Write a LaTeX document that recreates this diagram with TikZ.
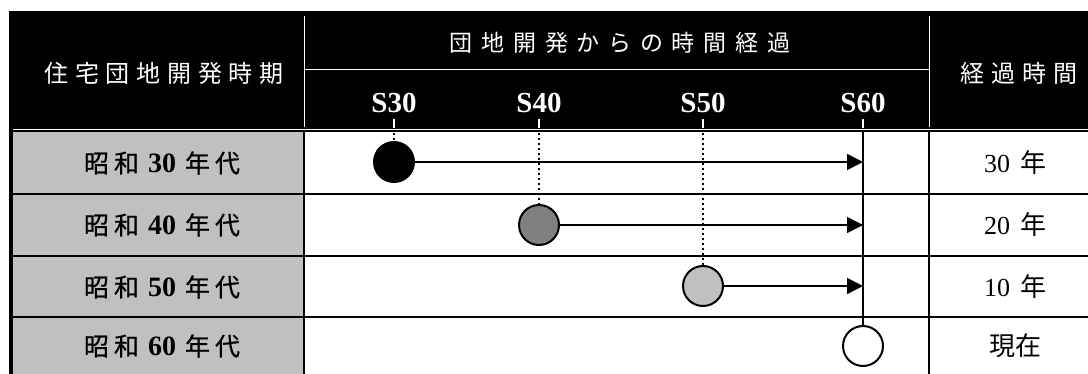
\documentclass[tikz,border=0pt]{standalone}
\usepackage{fontspec}
\setmainfont{Liberation Serif}
\newfontfamily\jphead[LetterSpace=28]{Noto Sans CJK JP}
\newfontfamily\jpwide[LetterSpace=38]{Noto Sans CJK JP}
\newfontfamily\jprow[LetterSpace=20,FakeBold=0.8]{Noto Sans CJK JP}
\newfontfamily\jpcell{Noto Sans CJK JP}
\usetikzlibrary{arrows.meta}
\definecolor{cellgrey}{HTML}{C0C0C0}
\definecolor{midgrey}{HTML}{808080}
\newcommand{\rowlab}[1]{{\jprow 昭和}\hspace{9pt}{\bfseries\fontsize{28}{30}\selectfont #1}\hspace{9pt}{\jprow 年代}}
\newcommand{\yrs}[1]{#1\hspace{10pt}{\jpcell 年}}
\begin{document}
\begin{tikzpicture}[x=1pt,y=-1pt,
  headtxt/.style={text=white,inner sep=0pt,font=\fontsize{24}{28}\selectfont\jphead},
  yeartxt/.style={text=white,inner sep=0pt,font=\fontsize{29}{32}\selectfont\bfseries},
  rowtxt/.style={text=black,inner sep=0pt,font=\fontsize{25}{28}\selectfont},
  celltxt/.style={text=black,inner sep=0pt,font=\fontsize{26}{28}\selectfont},
  gridline/.style={line width=2pt,black},
  hdrline/.style={line width=1pt,white},
  tick/.style={line width=2pt,white},
  dotline/.style={line width=2.5pt,black,dash pattern=on 2.5pt off 2.5pt},
  dot/.style={circle,draw=black,line width=2pt,minimum size=40pt,inner sep=0pt},
  arr/.style={line width=1.6pt,-{Triangle[length=16pt,width=16pt]}}
]
\useasboundingbox (0,0) rectangle (1088,374);
% header
\fill[black] (9,11) rectangle (1088,129);
\draw[hdrline] (304,16) -- (304,127);
\draw[hdrline] (929,16) -- (929,127);
\draw[hdrline] (304,70) -- (929,70);
% body
\fill[cellgrey] (13,131) rectangle (304,374);
\fill[black] (9,129) rectangle (13,374);
\draw[gridline] (13,131) -- (1088,131);
\draw[gridline] (13,194) -- (1088,194);
\draw[gridline] (13,256) -- (1088,256);
\draw[gridline] (13,317) -- (1088,317);
\draw[gridline] (304,131) -- (304,374);
\draw[gridline] (929,131) -- (929,374);
% header texts
\node[headtxt] (h1) at (164,73) {住宅団地開発時期};
\node[headtxt,font=\fontsize{23}{28}\selectfont\jpwide] (h2) at (620,43) {団地開発からの時間経過};
\node[headtxt] (h3) at (1019,73) {経過時間};
\node[yeartxt] (y30) at (394,103) {S30};
\node[yeartxt] (y40) at (539,103) {S40};
\node[yeartxt] (y50) at (703,103) {S50};
\node[yeartxt] (y60) at (863,103) {S60};
% row labels
\node[rowtxt] (r30) at (162,163) {\rowlab{30}};
\node[rowtxt] (r40) at (162,225) {\rowlab{40}};
\node[rowtxt] (r50) at (162,287) {\rowlab{50}};
\node[rowtxt] (r60) at (162,346) {\rowlab{60}};
% right column
\node[celltxt] (e30) at (1015,163) {\yrs{30}};
\node[celltxt] (e20) at (1015,225) {\yrs{20}};
\node[celltxt] (e10) at (1015,287) {\yrs{10}};
\node[celltxt] (e00) at (1015,346) {\jpcell 現在};
% ticks
\coordinate (t30) at (394,119);
\coordinate (t40) at (539,119);
\coordinate (t50) at (703,119);
\coordinate (t60) at (863,119);
\coordinate (b30) at (394,133);
\coordinate (b40) at (539,133);
\coordinate (b50) at (703,133);
\coordinate (b60) at (863,131);
% circles
\node[dot,fill=black] (c30) at (394,162) {};
\node[dot,fill=midgrey] (c40) at (539,225) {};
\node[dot,fill=cellgrey] (c50) at (703,286) {};
\node[dot,fill=white] (c60) at (863,346) {};
% ticks in header
\draw[tick] (t30) -- ++(0,9);
\draw[tick] (t40) -- ++(0,9);
\draw[tick] (t50) -- ++(0,9);
\draw[tick] (t60) -- ++(0,9);
% dotted drops
\draw[dotline] (b30) -- (c30.north);
\draw[dotline] (b40) -- (c40.north);
\draw[dotline] (b50) -- (c50.north);
% present line
\draw[line width=2.4pt] (b60) -- (c60.north);
% arrows
\draw[arr] (c30.east) -- (c30.east -| b60) coordinate (a30);
\draw[arr] (c40.east) -- (c40.east -| b60) coordinate (a40);
\draw[arr] (c50.east) -- (c50.east -| b60) coordinate (a50);
\end{tikzpicture}
\end{document}
